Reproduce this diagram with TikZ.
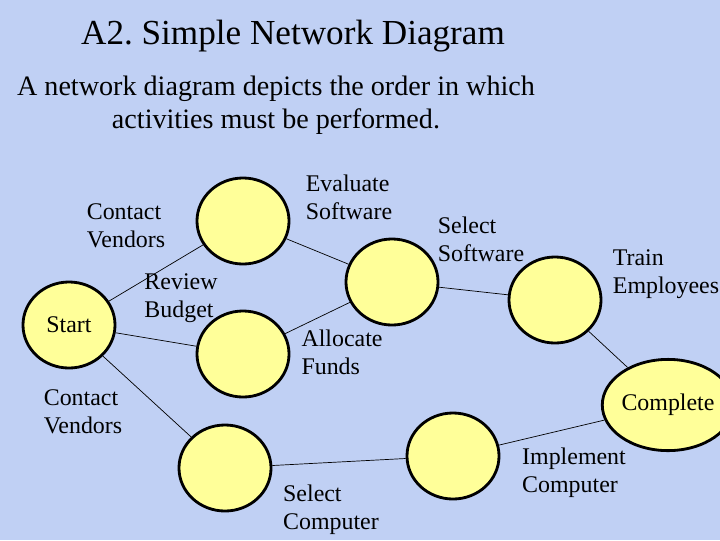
\documentclass[tikz,border=0pt]{standalone}
\usepackage{fontspec}
\setmainfont{Liberation Serif}
\usetikzlibrary{shapes.geometric}
\definecolor{kback}{HTML}{C0D0F4}
\definecolor{kyellow}{HTML}{FFFF99}
\tikzset{
  evt/.style={ellipse, draw=black, line width=2pt, fill=kyellow,
    minimum width=2.3cm, minimum height=2.15cm, inner sep=0pt,
    font=\fontsize{17}{20}\selectfont},
  actlbl/.style={align=left, inner sep=0pt, font=\fontsize{17}{20}\selectfont},
  link/.style={draw=black, line width=0.5pt}
}
\frenchspacing
\begin{document}
\begin{tikzpicture}[x=0.025cm, y=-0.025cm]
\useasboundingbox (0,0) rectangle (720,540);
\fill[kback] (0,0) rectangle (720,540);
\node[font=\fontsize{25}{30}\selectfont] (title) at (293,36) {A2. Simple Network Diagram};
\node[font=\fontsize{20}{23.4}\selectfont, align=center] (intro)
  at (276,105) {A network diagram depicts the order in which\\activities must be performed.};
% events
\node[evt] (start) at (69,325) {Start};
\node[evt] (vend) at (243,221) {};
\node[evt] (budg) at (243,354) {};
\node[evt] (eval) at (392,282) {};
\node[evt] (soft) at (555,300) {};
\node[evt] (vend2) at (225,468) {};
\node[evt] (comp) at (453,456) {};
\node[evt, minimum width=2.5cm, minimum height=2.28cm] (done) at (668,405) {Complete};
% activities
\draw[link] (start) -- (vend);
\draw[link] (start) -- (budg);
\draw[link] (vend) -- (eval);
\draw[link] (budg) -- (eval);
\draw[link] (eval) -- (soft);
\draw[link] (soft) -- (done);
\draw[link] (start) -- (vend2);
\draw[link] (vend2) -- (comp);
\draw[link] (comp) -- (done);
\node[actlbl] (lvend) at (126,226) {Contact\\Vendors};
\node[actlbl] (lbudg) at (181,298) {Review\\Budget};
\node[actlbl] (leval) at (349,197) {Evaluate\\Software};
\node[actlbl] (lfund) at (342,352) {Allocate\\Funds};
\node[actlbl] (lsoft) at (481,239) {Select\\Software};
\node[actlbl] (ltrain) at (666,274) {Train\\Employees};
\node[actlbl] (lvend2) at (83,412) {Contact\\Vendors};
\node[actlbl] (lcomp) at (331,510) {Select\\Computer};
\node[actlbl] (limpl) at (574,473) {Implement\\Computer};
\end{tikzpicture}
\end{document}
